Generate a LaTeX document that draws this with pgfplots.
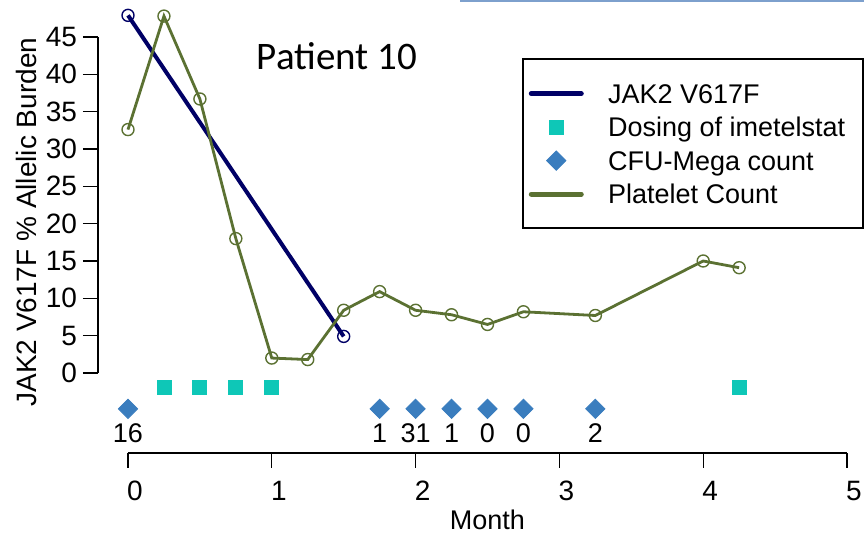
\documentclass[border=0pt]{standalone}
\usepackage{pgfplots}
\pgfplotsset{compat=1.18}
\usepackage{fontspec}
\setmainfont{Liberation Sans}
\newfontfamily\titlefont{Carlito}

\definecolor{jakblue}{RGB}{0,0,102}
\definecolor{plateletgreen}{RGB}{91,113,50}
\definecolor{dosecyan}{RGB}{14,199,183}
\definecolor{cfublue}{RGB}{58,125,190}
\definecolor{topband}{RGB}{125,160,205}

% legend sample: a single marker centred in a 27.5pt wide cell
\pgfplotsset{marklegend/.style={legend image code/.code={\path (0pt,0pt) (27.5pt,0pt); \draw[##1] plot coordinates {(13.75pt,0pt)};}}}

\begin{document}
\begin{tikzpicture}
\useasboundingbox (0pt,0pt) rectangle (432pt,266.5pt);
\draw[topband, line width=1.5pt] (230pt,266pt) -- (432pt,266pt);
\begin{axis}[
  at={(64pt,80pt)}, anchor=south west,
  scale only axis, width=359.5pt, height=168pt,
  xmin=0, xmax=5, ymin=0, ymax=45,
  clip=false,
  axis lines=left, axis line style={-, line width=0.6pt},
  axis x line shift=40pt, axis y line shift=15pt,
  tick align=outside, major tick length=7.5pt,
  tick style={line width=0.6pt, black},
  xtick={0,1,2,3,4,5}, ytick={0,5,10,15,20,25,30,35,40,45},
  /pgf/number format/assume math mode=true,
  ticklabel style={font=\fontsize{14}{16}\selectfont},
  yticklabel style={xshift=0.5pt},
  xticklabel style={xshift=3.5pt, yshift=-3pt},
  xlabel={Month},
  xlabel style={at={(axis description cs:0.5,-0.4375)}, anchor=center, font=\fontsize{13.5}{15}\selectfont},
  ylabel={JAK2 V617F \% Allelic Burden},
  ylabel style={at={(axis description cs:-0.1405,0.449)}, anchor=center, font=\fontsize{14}{16}\selectfont},
  legend style={draw=none, fill=none, at={(axis description cs:0.5563,0.8676)}, anchor=north west,
    inner sep=0pt, row sep=5.0pt, column sep=12pt, font=\fontsize{13.5}{15}\selectfont,
    nodes={inner sep=0pt, text height=10.75pt, text depth=1pt}},
  legend cell align=left,
]
% JAK2 V617F allelic burden
\addplot[jakblue, line width=2pt, mark=o, mark size=3pt, mark options={line width=0.7pt, solid},
  legend image code/.code={\draw[jakblue, line width=2.5pt, line cap=round] (1.25pt,0pt) -- (26.25pt,0pt);}]
  coordinates {(0,47.9) (1.5,4.9)};
\addlegendentry{JAK2 V617F}
% imetelstat doses
\addplot[only marks, mark=square*, mark size=3.5pt, color=dosecyan, marklegend]
  coordinates {(0.25,-1.9) (0.5,-1.9) (0.75,-1.9) (1.0,-1.9) (4.25,-1.9)};
\addlegendentry{Dosing of imetelstat}
% CFU-Mega colony counts
\addplot[only marks, mark=square*, mark size=3.4pt, mark options={rotate=45}, color=cfublue,
  nodes near coords, point meta=explicit symbolic,
  every node near coord/.append style={anchor=center, yshift=-12pt, black, font=\fontsize{13.5}{15}\selectfont},
  marklegend]
  coordinates {(0,-4.8)[16] (1.75,-4.8)[1] (2.0,-4.8)[31] (2.25,-4.8)[1] (2.5,-4.8)[0] (2.75,-4.8)[0] (3.25,-4.8)[2]};
\addlegendentry{CFU-Mega count}
% platelet count
\addplot[plateletgreen, line width=1.4pt, mark=o, mark size=3pt, mark options={line width=0.7pt, solid},
  legend image code/.code={\draw[plateletgreen, line width=2.5pt, line cap=round] (1.25pt,0pt) -- (26.25pt,0pt);}]
  coordinates {(0,32.6) (0.25,47.8) (0.5,36.7) (0.75,18.0) (1.0,2.0) (1.25,1.8) (1.5,8.4)
    (1.75,10.9) (2.0,8.4) (2.25,7.8) (2.5,6.5) (2.75,8.2) (3.25,7.7) (4.0,15.0) (4.25,14.1)};
\addlegendentry{Platelet Count}
\end{axis}
% legend frame
\draw[line width=0.6pt] (261.5pt,237pt) rectangle (431.5pt,152.5pt);
\node[font=\titlefont\fontsize{19.5}{22}\selectfont] at (168.5pt,238.5pt) {Patient 10};
\end{tikzpicture}
\end{document}
